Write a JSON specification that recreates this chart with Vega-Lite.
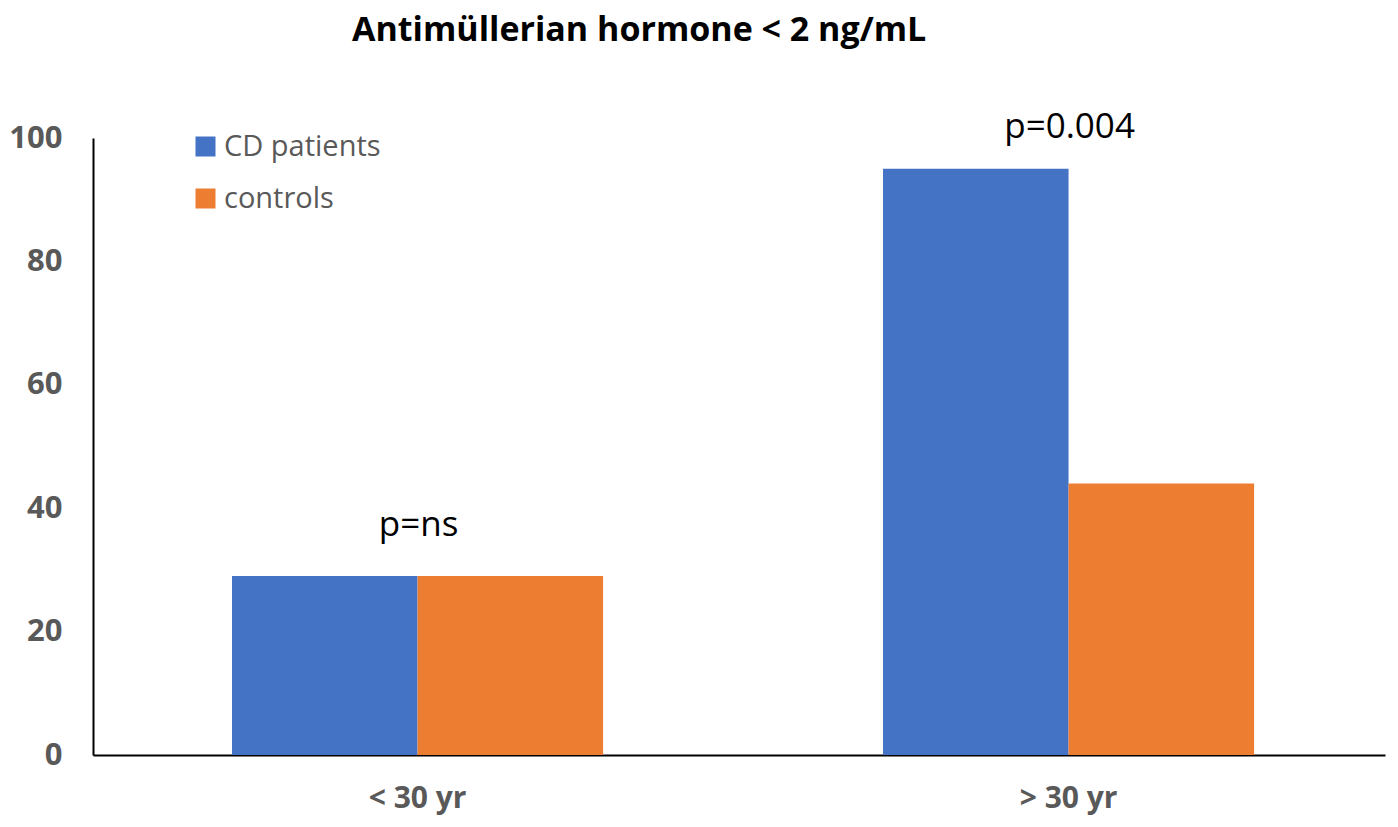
{
  "$schema": "https://vega.github.io/schema/vega-lite/v6.json",
  "autosize": "none",
  "width": 1292,
  "height": 617,
  "padding": {"left": 93, "top": 138, "right": 13, "bottom": 72},
  "background": "white",
  "config": {"view": {"stroke": null}},
  "title": {
    "text": "Antimüllerian hormone < 2 ng/mL",
    "anchor": "start",
    "frame": "group",
    "dx": 259,
    "offset": 62,
    "font": "Open Sans",
    "fontSize": 34,
    "fontWeight": "bold",
    "color": "black"
  },
  "datasets": {
    "bars": [
      {"age": "< 30 yr", "group": "CD patients", "percent": 29},
      {"age": "< 30 yr", "group": "controls", "percent": 29},
      {"age": "> 30 yr", "group": "CD patients", "percent": 95},
      {"age": "> 30 yr", "group": "controls", "percent": 44}
    ],
    "notes": [
      {"age": "< 30 yr", "label": "p=ns", "at": 37.3},
      {"age": "> 30 yr", "label": "p=0.004", "at": 101.8}
    ]
  },
  "layer": [
    {
      "data": {"name": "bars"},
      "mark": {"type": "bar"},
      "encoding": {
        "x": {
          "field": "age",
          "type": "nominal",
          "scale": {"paddingInner": 0.43, "paddingOuter": 0.2073, "align": 0.515},
          "axis": {
            "title": null,
            "labelAngle": 0,
            "labelFont": "Open Sans",
            "labelFontSize": 30,
            "labelFontWeight": "bold",
            "labelColor": "#595959",
            "labelPadding": 28,
            "ticks": false,
            "domainColor": "black",
            "domainWidth": 2
          }
        },
        "xOffset": {
          "field": "group",
          "type": "nominal",
          "sort": ["CD patients", "controls"],
          "scale": {"paddingInner": 0, "paddingOuter": 0}
        },
        "y": {
          "field": "percent",
          "type": "quantitative",
          "scale": {"domain": [0, 100]},
          "axis": {
            "title": null,
            "values": [0, 20, 40, 60, 80, 100],
            "grid": false,
            "ticks": false,
            "labelFont": "Open Sans",
            "labelFontSize": 31,
            "labelFontWeight": "bold",
            "labelColor": "#595959",
            "labelPadding": 31,
            "domainColor": "black",
            "domainWidth": 2
          }
        },
        "color": {
          "field": "group",
          "type": "nominal",
          "scale": {"domain": ["CD patients", "controls"], "range": ["#4472C4", "#ED7D31"]},
          "legend": {
            "title": null,
            "orient": "none",
            "legendX": 98,
            "legendY": -6,
            "symbolType": "square",
            "symbolSize": 400,
            "symbolStrokeWidth": 0,
            "labelFont": "Open Sans",
            "labelFontSize": 29,
            "labelColor": "#595959",
            "labelOffset": 4,
            "rowPadding": 22
          }
        }
      }
    },
    {
      "data": {"name": "notes"},
      "mark": {"type": "text", "font": "Open Sans", "fontSize": 35, "color": "black", "baseline": "middle", "dx": 1},
      "encoding": {
        "x": {"field": "age", "type": "nominal"},
        "y": {"field": "at", "type": "quantitative"},
        "text": {"field": "label"}
      }
    }
  ]
}
